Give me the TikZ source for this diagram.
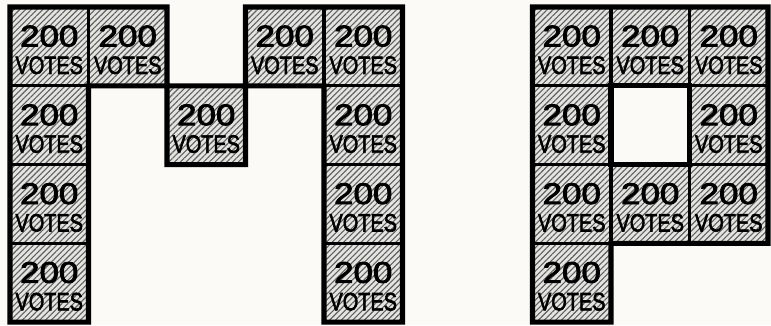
\documentclass[tikz,border=0pt]{standalone}
\usepackage{fontspec}
\setmainfont{Liberation Sans}
\newfontfamily\cellfont{Liberation Sans}[FakeBold=2.6]
\usetikzlibrary{patterns.meta}

\definecolor{paper}{RGB}{251,250,246}
\definecolor{cellgray}{RGB}{228,228,224}
\definecolor{hatchgray}{RGB}{95,95,95}

% two lines placed from the cell centre: number on the centre line, word baseline 23.5pt down
\newcommand{\votetext}{%
  \smash{\makebox[0pt]{\raisebox{0pt}{\fontsize{25.5}{28}\selectfont\scalebox{1.17}[1]{200}}}}%
  \smash{\makebox[0pt]{\raisebox{-23.5pt}{\fontsize{21.5}{23}\selectfont\scalebox{0.79}[1]{VOTES}}}}}

\begin{document}
\begin{tikzpicture}[
    x=0.3mm, y=-0.3mm,
    votecell/.style={draw, rectangle, line width=2.6pt, minimum width=23.55mm, minimum height=23.64mm,
        inner sep=0pt, outer sep=0pt, font=\cellfont,
        preaction={fill=cellgray}, pattern={Lines[angle=45, distance=3.5pt, line width=0.95pt]}, pattern color=hatchgray},
    outline/.style={line width=4.3pt, line join=miter}
]

\useasboundingbox (0,0) rectangle (771,325);
\fill[paper] (0,0) rectangle (771,325);

% M: left leg
\node[votecell] (m00) at (49.25,46.4) {\votetext};
\node[votecell] (m01) at (49.25,125.2) {\votetext};
\node[votecell] (m02) at (49.25,204.0) {\votetext};
\node[votecell] (m03) at (49.25,282.8) {\votetext};

% M: middle
\node[votecell] (m10) at (127.75,46.4) {\votetext};
\node[votecell] (m21) at (206.25,125.2) {\votetext};
\node[votecell] (m30) at (284.75,46.4) {\votetext};

% M: right leg
\node[votecell] (m40) at (363.25,46.4) {\votetext};
\node[votecell] (m41) at (363.25,125.2) {\votetext};
\node[votecell] (m42) at (363.25,204.0) {\votetext};
\node[votecell] (m43) at (363.25,282.8) {\votetext};

% P: bowl and stem
\node[votecell] (p00) at (571.75,46.4) {\votetext};
\node[votecell] (p10) at (650.25,46.4) {\votetext};
\node[votecell] (p20) at (728.75,46.4) {\votetext};
\node[votecell] (p01) at (571.75,125.2) {\votetext};
\node[votecell] (p21) at (728.75,125.2) {\votetext};
\node[votecell] (p02) at (571.75,204.0) {\votetext};
\node[votecell] (p12) at (650.25,204.0) {\votetext};
\node[votecell] (p22) at (728.75,204.0) {\votetext};
\node[votecell] (p03) at (571.75,282.8) {\votetext};

% heavy outlines
\draw[outline] (m00.north west) -- (m10.north east) -- (m10.south east) -- (m21.north east)
    -- (m30.north west) -- (m40.north east) -- (m43.south east) -- (m43.south west)
    -- (m41.north west) -- (m21.north east) -- (m21.south east) -- (m21.south west)
    -- (m21.north west) -- (m01.north east) -- (m03.south east) -- (m03.south west) -- cycle;
\draw[outline] (p00.north west) -- (p20.north east) -- (p22.south east) -- (p03.north east)
    -- (p03.south east) -- (p03.south west) -- cycle;
\draw[outline] (p01.north east) -- (p21.north west) -- (p21.south west) -- (p01.south east) -- cycle;

\end{tikzpicture}
\end{document}
